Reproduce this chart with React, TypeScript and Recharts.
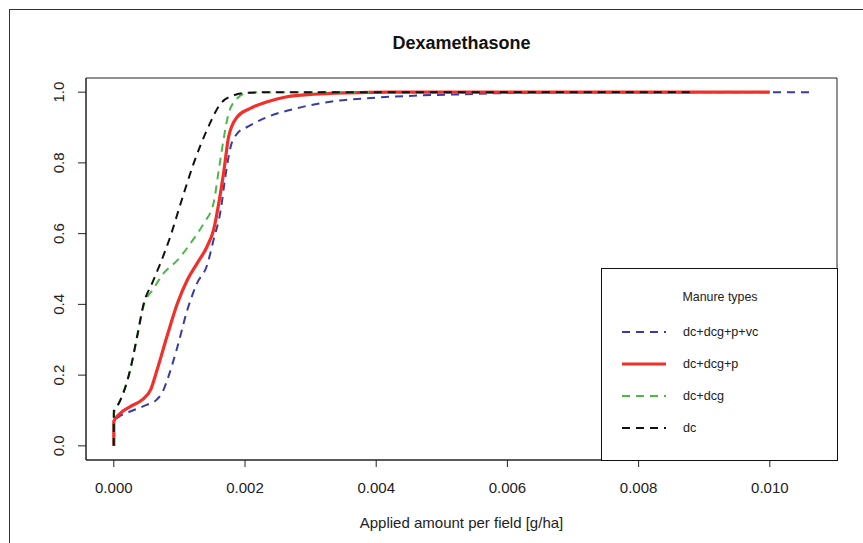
import React from "react";
import {
  LineChart,
  Line,
  XAxis,
  YAxis,
  ReferenceArea,
} from "recharts";

type Pt = { x: number; y: number };

const toPts = (rows: number[][]): Pt[] => rows.map(([x, y]) => ({ x, y }));

// ECDF curves, [applied amount g/ha, cumulative share]
const dcDcgPVc = toPts([
  [0, 0], [0, 0.069], [0.0001, 0.085], [0.00025, 0.097], [0.0005, 0.116],
  [0.00065, 0.13], [0.00075, 0.155], [0.00084, 0.2], [0.00097, 0.28], [0.00112, 0.384],
  [0.00127, 0.46], [0.00142, 0.51], [0.00152, 0.582], [0.00163, 0.667],
  [0.0017, 0.761], [0.00178, 0.845], [0.00188, 0.883], [0.00205, 0.903],
  [0.00228, 0.925], [0.0028, 0.955], [0.0033, 0.973], [0.0038, 0.982],
  [0.00457, 0.99], [0.00533, 0.994], [0.0061, 0.998], [0.0075, 1.0],
  [0.01064, 1.0],
]);

const dcDcgP = toPts([
  [0, 0], [0, 0.069], [0.0001, 0.092], [0.00025, 0.111], [0.00043, 0.13],
  [0.00056, 0.158], [0.00066, 0.215], [0.00081, 0.309], [0.00097, 0.403],
  [0.00112, 0.469], [0.00127, 0.516], [0.00142, 0.563], [0.00152, 0.61],
  [0.0016, 0.686], [0.00168, 0.78], [0.00175, 0.874], [0.00188, 0.93],
  [0.00208, 0.954], [0.00234, 0.973], [0.00264, 0.987], [0.00305, 0.994],
  [0.00356, 0.998], [0.0042, 1.0], [0.01, 1.0],
]);

const dcDcg = toPts([
  [0, 0], [0, 0.09], [0.0001, 0.13], [0.00025, 0.215], [0.00036, 0.31],
  [0.00046, 0.4], [0.00059, 0.44], [0.00076, 0.488], [0.00097, 0.525],
  [0.00117, 0.573], [0.00137, 0.629], [0.00152, 0.686], [0.0016, 0.78],
  [0.00168, 0.874], [0.00175, 0.94], [0.00188, 0.982], [0.002, 0.996],
  [0.0023, 1.0], [0.004, 1.0],
]);

const dc = toPts([
  [0, 0], [0, 0.1], [0.000076, 0.12], [0.00025, 0.215], [0.000355, 0.31],
  [0.000457, 0.403], [0.000585, 0.46], [0.00071, 0.516], [0.00086, 0.591],
  [0.00102, 0.686], [0.00122, 0.8], [0.00142, 0.893], [0.00163, 0.968],
  [0.00183, 0.991], [0.00203, 0.998], [0.0025, 1.0], [0.00878, 1.0],
]);

const xTicks = [0, 0.002, 0.004, 0.006, 0.008, 0.01];
const yTicks = [0, 0.2, 0.4, 0.6, 0.8, 1.0];

const series = [
  { name: "dc+dcg+p+vc", data: dcDcgPVc, color: "#3a3aa8", width: 2, dash: "8 6" },
  { name: "dc+dcg+p", data: dcDcgP, color: "#f2302a", width: 3.2, dash: undefined },
  { name: "dc+dcg", data: dcDcg, color: "#4cb848", width: 2, dash: "8 6" },
  { name: "dc", data: dc, color: "#111111", width: 2, dash: "8 6" },
];

const FONT = "'Liberation Sans', Arial, sans-serif";
const X_MIN = -0.000424;
const X_MAX = 0.011024;

const YTick = (props: any) => {
  const { y, payload } = props;
  return (
    <text
      x={59}
      y={y}
      transform={`rotate(-90 59 ${y})`}
      textAnchor="middle"
      dominantBaseline="central"
      fontSize={15}
      fontFamily={FONT}
      fill="#222"
    >
      {payload.value.toFixed(1)}
    </text>
  );
};

const LegendBox = () => (
  <div
    style={{
      position: "absolute",
      left: 601,
      top: 268,
      width: 237,
      height: 193,
      border: "1px solid #111",
      boxSizing: "border-box",
      background: "#fff",
    }}
  >
    <svg width={237} height={193} style={{ position: "absolute", left: -1, top: -1 }}>
      <text x={119} y={29} textAnchor="middle" dominantBaseline="central" fontSize={12.4} fontFamily={FONT} fill="#222">
        Manure types
      </text>
      {series.map((s, i) => (
        <g key={s.name}>
          <line
            x1={21}
            x2={65}
            y1={64 + i * 32}
            y2={64 + i * 32}
            stroke={s.color}
            strokeWidth={s.width}
            strokeDasharray={s.dash}
          />
          <text x={82} y={64 + i * 32} dominantBaseline="central" fontSize={12.6} fontFamily={FONT} fill="#222">
            {s.name}
          </text>
        </g>
      ))}
    </svg>
  </div>
);

export default function App() {
  return (
    <div
      style={{
        position: "absolute",
        left: 0,
        top: 0,
        width: 863,
        height: 543,
        overflow: "hidden",
        background: "#fff",
        fontFamily: FONT,
      }}
    >
      <div
        style={{
          position: "absolute",
          left: 9,
          top: 9,
          width: 900,
          height: 600,
          borderLeft: "1.5px solid #333",
          borderTop: "1.5px solid #333",
        }}
      />
      <div
        style={{
          position: "absolute",
          left: 86,
          width: 751,
          top: 33,
          textAlign: "center",
          fontWeight: "bold",
          fontSize: 18,
          color: "#111",
        }}
      >
        Dexamethasone
      </div>
      <div style={{ position: "absolute", left: 0, top: 0 }}>
        <LineChart
          width={863}
          height={543}
          margin={{ top: 78, right: 26, bottom: 10, left: 46 }}
        >
          <XAxis
            type="number"
            dataKey="x"
            domain={[X_MIN, X_MAX]}
            ticks={xTicks}
            allowDataOverflow
            height={73}
            tickSize={7}
            tickMargin={15}
            tickFormatter={(v: number) => v.toFixed(3)}
            tick={{ fontSize: 15, fontFamily: FONT, fill: "#222" }}
            stroke="#222"
            label={{
              value: "Applied amount per field [g/ha]",
              position: "insideBottom",
              offset: 5,
              fontSize: 15,
              fontFamily: FONT,
              fill: "#222",
            }}
          />
          <YAxis
            type="number"
            dataKey="y"
            domain={[-0.04, 1.04]}
            ticks={yTicks}
            allowDataOverflow
            width={40}
            tickSize={8}
            tick={<YTick />}
            stroke="#222"
          />
          <ReferenceArea
            x1={X_MIN}
            x2={X_MAX}
            y1={-0.04}
            y2={1.04}
            fill="none"
            stroke="#222"
            strokeWidth={1}
            ifOverflow="visible"
          />
          {series.map((s) => (
            <Line
              key={s.name}
              name={s.name}
              data={s.data}
              dataKey="y"
              type="monotoneX"
              stroke={s.color}
              strokeWidth={s.width}
              strokeDasharray={s.dash}
              dot={false}
              activeDot={false}
              isAnimationActive={false}
            />
          ))}
        </LineChart>
      </div>
      <LegendBox />
    </div>
  );
}
